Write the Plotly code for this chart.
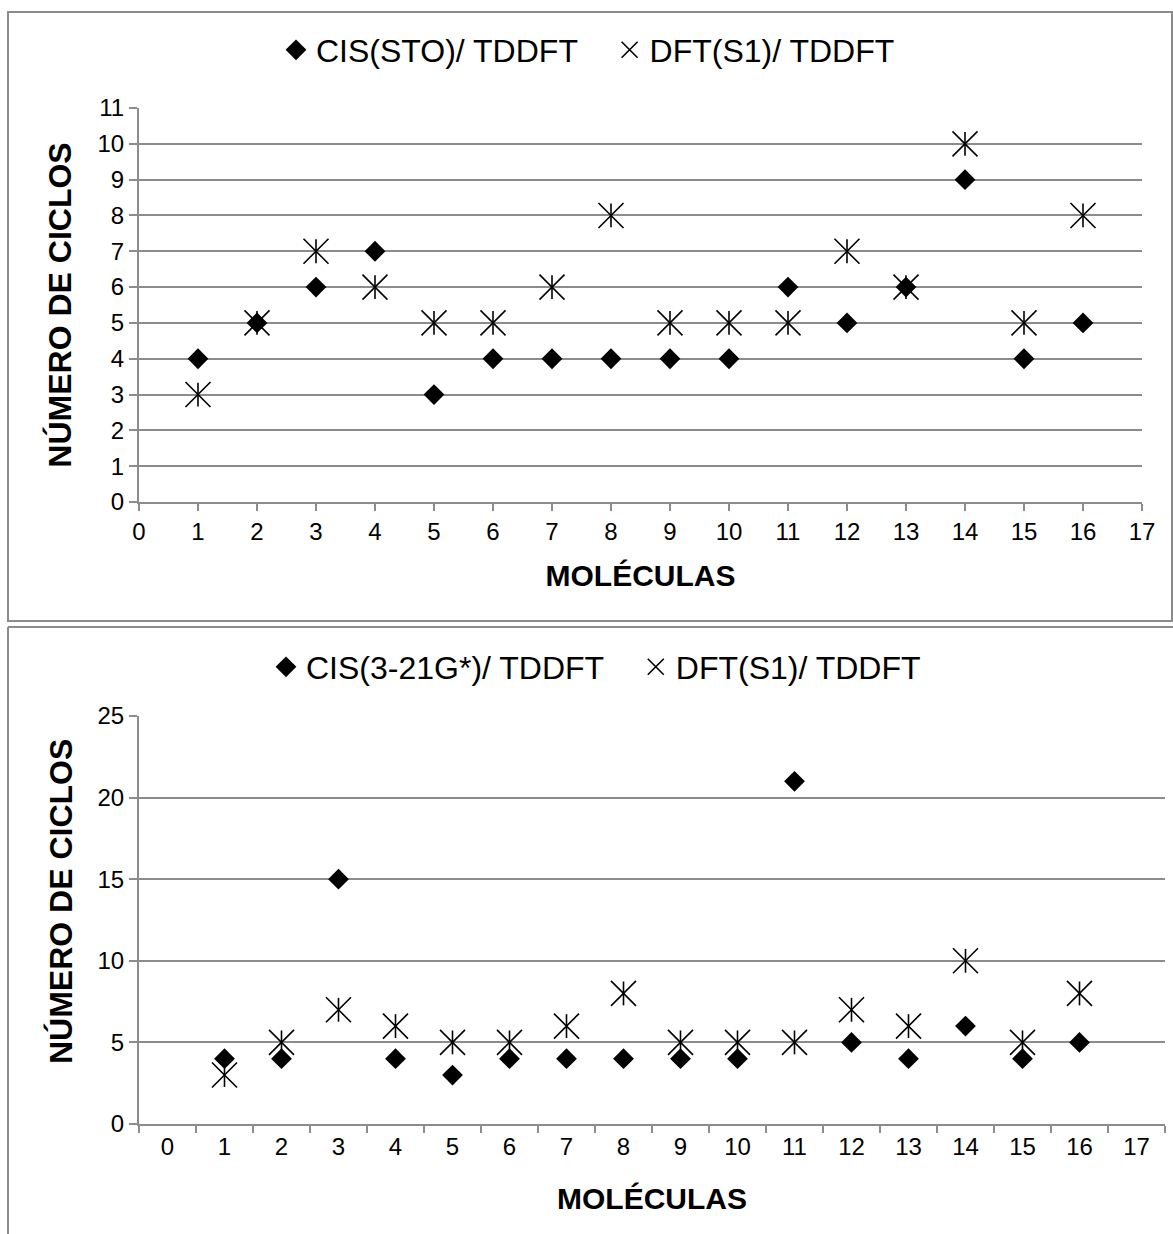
import plotly.graph_objects as go

# ---------------- data ----------------
molecules = list(range(1, 17))
cis_sto = [4, 5, 6, 7, 3, 4, 4, 4, 4, 4, 6, 5, 6, 9, 4, 5]
dft_s1 = [3, 5, 7, 6, 5, 5, 6, 8, 5, 5, 5, 7, 6, 10, 5, 8]
cis_321g = [4, 4, 15, 4, 3, 4, 4, 4, 4, 4, 21, 5, 4, 6, 4, 5]
x_tick_labels = [str(i) for i in range(0, 18)]

name_top_a = "CIS(STO)/ TDDFT"
name_bot_a = "CIS(3-21G*)/ TDDFT"
name_b = "DFT(S1)/ TDDFT"
x_title = "MOLÉCULAS"
y_title = "NÚMERO DE CICLOS"

# ---------------- layout helpers ----------------
W, H = 1173, 1234
def fx(px):
    return px / W
def fy(py):
    return 1 - py / H

GRID = "#8c8c8c"
TICKFONT = dict(family="Liberation Sans, Arial", size=24, color="black")
XTITLEFONT = dict(family="Liberation Sans, Arial", size=30, color="black", weight="bold")
YTITLEFONT = dict(family="Liberation Sans, Arial", size=32, color="black", weight="bold")
LEGFONT = dict(family="Liberation Sans Narrow, Liberation Sans, Arial", size=32, color="black")

DIAMOND = dict(symbol="diamond", size=16, color="black", line=dict(width=0))
XSTAR = dict(symbol="x-thin-open", size=25, color="black", line=dict(width=1.6, color="black"))
VSTAR = dict(symbol="line-ns-open", size=17, color="black", line=dict(width=1.6, color="black"))

GAP = "\u00a0" * 3

fig = go.Figure()

# top chart
fig.add_trace(go.Scatter(x=molecules, y=cis_sto, mode="markers", marker=DIAMOND,
                         name=name_top_a + GAP, xaxis="x", yaxis="y", legend="legend"))
fig.add_trace(go.Scatter(x=molecules, y=dft_s1, mode="markers", marker=XSTAR,
                         name=name_b, xaxis="x", yaxis="y", legend="legend",
                         legendgroup="t_b"))
fig.add_trace(go.Scatter(x=molecules, y=dft_s1, mode="markers", marker=VSTAR,
                         name=name_b, xaxis="x", yaxis="y", showlegend=False,
                         legendgroup="t_b"))

# bottom chart (category axis)
mol_cat = [str(m) for m in molecules]
fig.add_trace(go.Scatter(x=mol_cat, y=cis_321g, mode="markers", marker=DIAMOND,
                         name=name_bot_a + GAP, xaxis="x2", yaxis="y2", legend="legend2"))
fig.add_trace(go.Scatter(x=mol_cat, y=dft_s1, mode="markers", marker=XSTAR,
                         name=name_b, xaxis="x2", yaxis="y2", legend="legend2",
                         legendgroup="b_b"))
fig.add_trace(go.Scatter(x=mol_cat, y=dft_s1, mode="markers", marker=VSTAR,
                         name=name_b, xaxis="x2", yaxis="y2", showlegend=False,
                         legendgroup="b_b"))

axis_common = dict(showline=True, linecolor=GRID, linewidth=2, ticks="outside",
                   tickcolor=GRID, tickwidth=2, tickfont=TICKFONT, zeroline=False,
                   automargin=False)

fig.update_layout(
    template="none",
    width=W, height=H,
    margin=dict(l=0, r=0, t=0, b=0, pad=0, autoexpand=False),
    paper_bgcolor="white", plot_bgcolor="white",
    font=dict(family="Liberation Sans, Arial", color="black"),
    xaxis=dict(domain=[fx(139), fx(1142)], range=[0, 17], tickmode="linear", tick0=0, dtick=1,
               showgrid=False, ticklen=7, anchor="y",
               title=dict(text=x_title, font=XTITLEFONT, standoff=21), **axis_common),
    yaxis=dict(domain=[fy(502), fy(108)], range=[0, 11], tickmode="linear", tick0=0, dtick=1,
               showgrid=True, gridcolor=GRID, gridwidth=2, ticklen=8, anchor="x",
               title=dict(text=y_title, font=YTITLEFONT, standoff=16), **axis_common),
    xaxis2=dict(domain=[fx(139), fx(1165)], type="category", categoryorder="array",
                categoryarray=x_tick_labels, range=[-0.5, 17.5], tickson="boundaries",
                showgrid=False, ticklen=7, anchor="y2",
                title=dict(text=x_title, font=XTITLEFONT, standoff=29), **axis_common),
    yaxis2=dict(domain=[fy(1124), fy(716)], range=[0, 25], tickmode="linear", tick0=0, dtick=5,
                showgrid=True, gridcolor=GRID, gridwidth=2, ticklen=8, anchor="x2",
                **axis_common),
    annotations=[
        dict(text=y_title, textangle=-90, font=YTITLEFONT, showarrow=False,
             xref="paper", yref="paper", x=fx(61), y=fy(902), xanchor="center", yanchor="middle"),
    ],
    legend=dict(orientation="h", x=fx(588), xanchor="center", y=fy(50), yanchor="middle",
                font=LEGFONT, bgcolor="rgba(0,0,0,0)", itemsizing="trace"),
    legend2=dict(orientation="h", x=fx(596), xanchor="center", y=fy(667), yanchor="middle",
                 font=LEGFONT, bgcolor="rgba(0,0,0,0)", itemsizing="trace"),
    shapes=[
        dict(type="rect", xref="paper", yref="paper", x0=fx(8), x1=fx(1172), y0=fy(621), y1=fy(12),
             line=dict(color=GRID, width=2), fillcolor="rgba(0,0,0,0)", layer="below"),
        dict(type="line", xref="paper", yref="paper", x0=fx(8), x1=1, y0=fy(627), y1=fy(627),
             line=dict(color=GRID, width=2)),
        dict(type="line", xref="paper", yref="paper", x0=fx(8), x1=fx(8), y0=fy(627), y1=0,
             line=dict(color=GRID, width=2)),
    ],
)

fig.write_html("out.html", config={"displayModeBar": False},
               post_script="document.body.style.margin='0';document.body.style.overflow='hidden';")
